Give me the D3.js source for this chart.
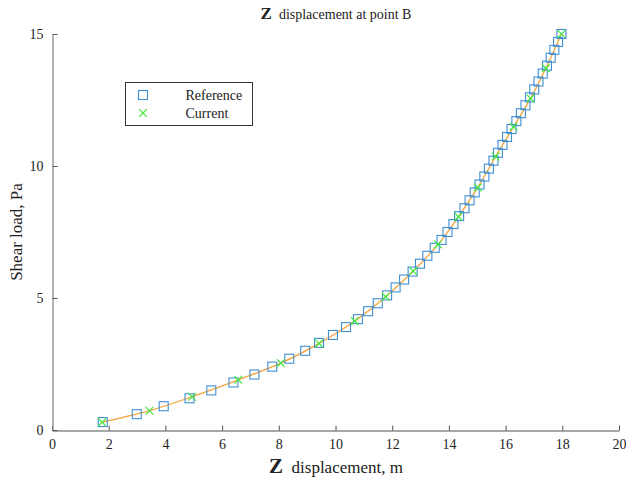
<!DOCTYPE html>
<html>
<head>
<meta charset="utf-8">
<script src="https://cdn.jsdelivr.net/npm/d3@7"></script>
<style>
  body { margin: 0; background: #fff; }
  svg text { font-family: "Liberation Serif", "DejaVu Serif", serif; fill: #222; }
</style>
</head>
<body>
<div id="chart"></div>
<script>
// reference series: shear load (Pa) and z displacement (m)
var refLoad = [0.3, 0.6, 0.9, 1.2, 1.5, 1.8, 2.1, 2.4, 2.7, 3.0, 3.3, 3.6, 3.9, 4.2, 4.5, 4.8,
  5.1, 5.4, 5.7, 6.0, 6.3, 6.6, 6.9, 7.2, 7.5, 7.8, 8.1, 8.4, 8.7, 9.0, 9.3, 9.6, 9.9, 10.2,
  10.5, 10.8, 11.1, 11.4, 11.7, 12.0, 12.3, 12.6, 12.9, 13.2, 13.5, 13.8, 14.1, 14.4, 14.7, 15.0];
var refDisp = [1.79, 2.99, 3.94, 4.85, 5.62, 6.40, 7.14, 7.77, 8.37, 8.93, 9.42, 9.91, 10.37, 10.79, 11.15, 11.49,
  11.82, 12.12, 12.42, 12.72, 12.98, 13.24, 13.50, 13.74, 13.95, 14.16, 14.36, 14.55, 14.73, 14.91, 15.08, 15.25, 15.41, 15.57,
  15.73, 15.89, 16.05, 16.21, 16.38, 16.54, 16.70, 16.86, 17.01, 17.16, 17.31, 17.46, 17.59, 17.72, 17.85, 17.97];

// current series
var curLoad = [0.29, 0.73, 1.26, 1.9, 2.53, 3.28, 4.13, 5.05, 6.02, 7.03, 8.08, 9.19, 10.36, 11.49, 12.56, 13.7, 15.0];
var curDisp = [1.77, 3.44, 4.94, 6.57, 8.07, 9.42, 10.68, 11.77, 12.74, 13.62, 14.34, 15.02, 15.65, 16.28, 16.88, 17.42, 17.97];

var xTicks = [0, 2, 4, 6, 8, 10, 12, 14, 16, 18, 20];
var yTicks = [0, 5, 10, 15];

var width = 626, height = 481;
var margin = {top: 34, right: 7, bottom: 51, left: 52};

var svg = d3.select("#chart").append("svg")
  .attr("width", width)
  .attr("height", height);

var x = d3.scaleLinear().domain([0, 20]).range([margin.left, width - margin.right]);
var y = d3.scaleLinear().domain([0, 15]).range([height - margin.bottom, margin.top]);

// axes, ticks pointing inward
var xAxis = svg.append("g")
  .attr("transform", "translate(0," + (height - margin.bottom + 0.5) + ")")
  .call(d3.axisBottom(x).tickValues(xTicks).tickSize(-5).tickPadding(9).tickSizeOuter(0));
var yAxis = svg.append("g")
  .attr("transform", "translate(" + (margin.left + 0.5) + ",0)")
  .call(d3.axisLeft(y).tickValues(yTicks).tickSize(-5).tickPadding(9).tickSizeOuter(0));

[xAxis, yAxis].forEach(function(g) {
  g.attr("font-size", null).attr("font-family", null);
  g.select(".domain").attr("stroke", "#8a8a8a").attr("stroke-width", 1.3);
  g.selectAll(".tick line").attr("stroke", "#555");
  g.selectAll(".tick text")
    .style("font-size", "14px")
    .attr("fill", "#222");
});

// fitted line through current points
var line = d3.line()
  .x(function(d) { return x(d[0]); })
  .y(function(d) { return y(d[1]); })
  .curve(d3.curveCatmullRom);

svg.append("path")
  .datum(d3.zip(curDisp, curLoad))
  .attr("d", line)
  .attr("fill", "none")
  .attr("stroke", "#f2a33a")
  .attr("stroke-width", 1.3);

// reference squares
svg.selectAll(".ref")
  .data(d3.zip(refDisp, refLoad))
  .enter()
  .append("rect")
    .attr("class", "ref")
    .attr("x", function(d) { return x(d[0]) - 4.5; })
    .attr("y", function(d) { return y(d[1]) - 4.5; })
    .attr("width", 9)
    .attr("height", 9)
    .attr("fill", "none")
    .attr("stroke", "#3f8fd2")
    .attr("stroke-width", 1.1);

// current crosses
var cross = d3.symbol().type(d3.symbolX).size(40);
svg.selectAll(".cur")
  .data(d3.zip(curDisp, curLoad))
  .enter()
  .append("path")
    .attr("class", "cur")
    .attr("d", cross)
    .attr("transform", function(d) { return "translate(" + x(d[0]) + "," + y(d[1]) + ")"; })
    .attr("fill", "none")
    .attr("stroke", "#3ee83e")
    .attr("stroke-width", 1.2);

// legend
var lg = svg.append("g").attr("transform", "translate(125.5,82.5)");
lg.append("rect")
  .attr("width", 127)
  .attr("height", 43)
  .attr("fill", "#fff")
  .attr("stroke", "#333")
  .attr("stroke-width", 1);
lg.append("rect")
  .attr("x", 13).attr("y", 8).attr("width", 9).attr("height", 9)
  .attr("fill", "none").attr("stroke", "#3f8fd2").attr("stroke-width", 1.1);
lg.append("path")
  .attr("d", cross)
  .attr("transform", "translate(17.5,30.5)")
  .attr("fill", "none").attr("stroke", "#3ee83e").attr("stroke-width", 1.2);
lg.append("text").attr("x", 60).attr("y", 17).style("font-size", "14px").text("Reference");
lg.append("text").attr("x", 60).attr("y", 35).style("font-size", "14px").text("Current");

// title
var title = svg.append("text")
  .attr("x", 336)
  .attr("y", 19)
  .attr("text-anchor", "middle")
  .style("font-size", "14px");
title.append("tspan").style("font-weight", "bold").style("font-size", "17px").text("Z");
title.append("tspan").text("\u2002displacement at point B");

// x label
var xl = svg.append("text")
  .attr("x", 336)
  .attr("y", 473)
  .attr("text-anchor", "middle")
  .style("font-size", "17px");
xl.append("tspan").style("font-weight", "bold").style("font-size", "21px").text("Z");
xl.append("tspan").text("\u2002displacement, m");

// y label
svg.append("text")
  .attr("transform", "translate(22," + y(7.5) + ") rotate(-90)")
  .attr("text-anchor", "middle")
  .style("font-size", "17px")
  .text("Shear load, Pa");
</script>
</body>
</html>
